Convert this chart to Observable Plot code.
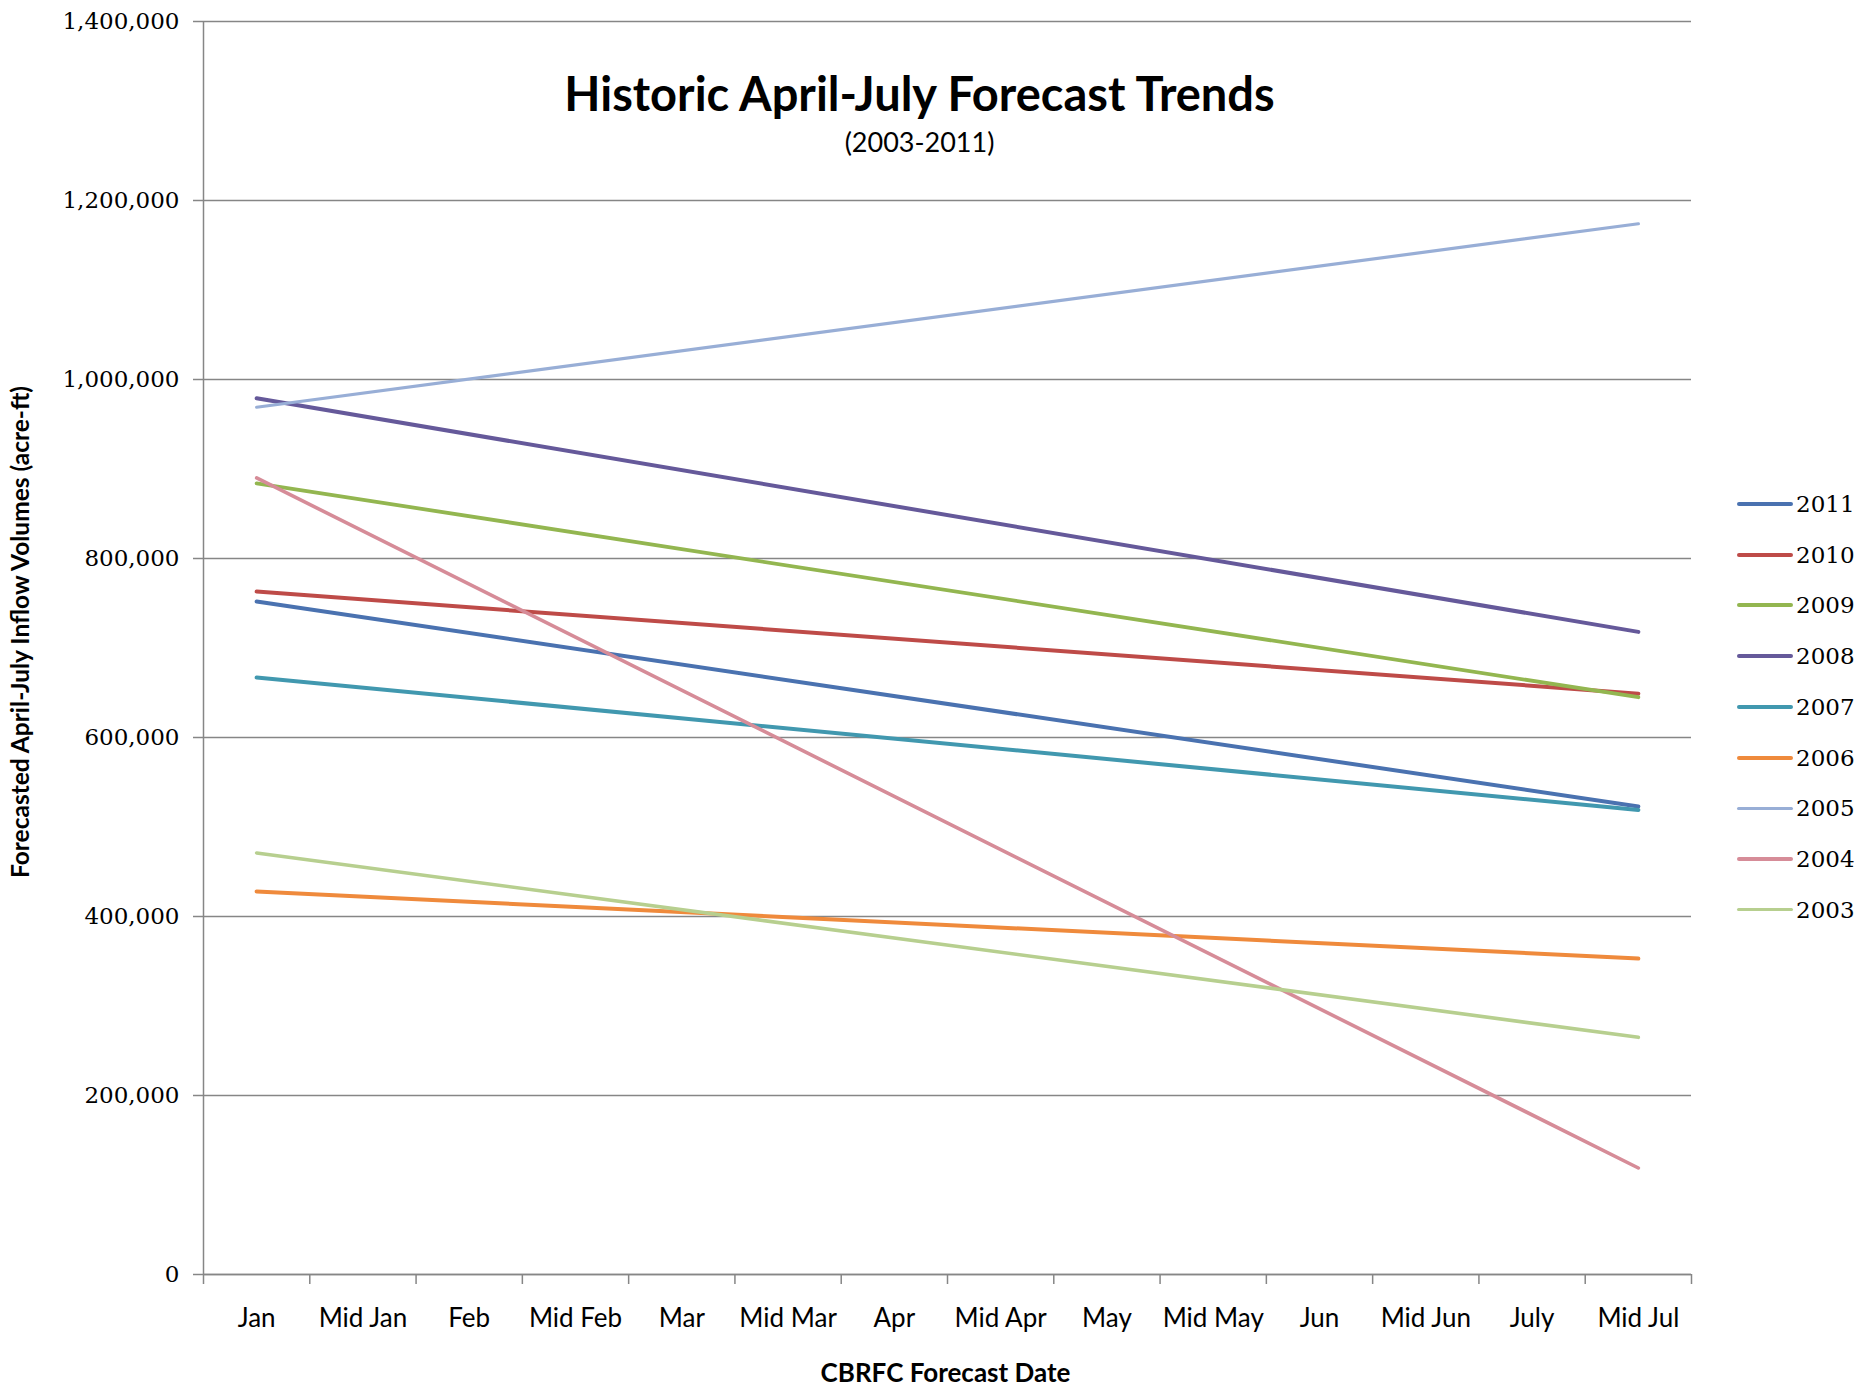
<!DOCTYPE html>
<html><head><meta charset="utf-8">
<script src="https://cdn.jsdelivr.net/npm/d3@7"></script>
<script src="https://cdn.jsdelivr.net/npm/@observablehq/plot@0.6"></script>
<style>
body{margin:0;background:#fff;}
#wrap{position:relative;width:1860px;height:1388px;overflow:hidden;}
#legend{position:absolute;left:1737px;top:0;font-family:"DejaVu Serif";font-size:23px;color:#000;}
.item{position:absolute;left:0;height:30px;display:flex;align-items:center;white-space:nowrap;}
.sw{width:56px;margin-right:3px;border-radius:2px;}
</style></head><body><div id="wrap"><div id="chart"></div><div id="legend"></div></div>
<script>
const categories = ["Jan","Mid Jan","Feb","Mid Feb","Mar","Mid Mar","Apr","Mid Apr","May","Mid May","Jun","Mid Jun","July","Mid Jul"];
const years = ["2011","2010","2009","2008","2007","2006","2005","2004","2003"];
const janValues = [752000, 763000, 884000, 979000, 667000, 428000, 969000, 890000, 471000];
const midJulValues = [523000, 649000, 645000, 718000, 519000, 353000, 1174000, 119000, 265000];
const yearColors = ["#4a72b0","#be4b48","#93b650","#65599a","#4198af","#ef8a3c","#98aed6","#d68c98","#b7cf8f"];
const yearWidths = [4, 4, 3.8, 4, 4, 4, 3.2, 3.6, 3.6];
const yTicks = [0, 200000, 400000, 600000, 800000, 1000000, 1200000, 1400000];

const rows = [];
years.forEach((y, i) => {
  rows.push({year: y, cat: "Jan", value: janValues[i]});
  rows.push({year: y, cat: "Mid Jul", value: midJulValues[i]});
});
const xi = d => categories.indexOf(d.cat) + 0.5;

const W = 1860, H = 1388, mL = 203, mR = 169, mT = 21, mB = 114;
const grid = "#868686";

const marks = [
  Plot.gridY(yTicks, {stroke: grid, strokeOpacity: 1, strokeWidth: 1.5, insetLeft: -10}),
  Plot.ruleX([0], {stroke: grid, strokeWidth: 1.5}),
  Plot.axisX({ticks: d3.range(categories.length + 1), tickSize: 10, tickFormat: () => "", stroke: grid, strokeWidth: 1.5, label: null}),
  Plot.axisX({ticks: d3.range(categories.length).map(i => i + 0.5), tickSize: 0, tickPadding: 34,
    tickFormat: d => categories[Math.floor(d)], fontSize: 26, fontFamily: "Lato", fill: "#000", label: null}),
  Plot.axisY({ticks: yTicks, tickSize: 0, tickPadding: 24, tickFormat: d3.format(","), fontSize: 23,
    fontFamily: "DejaVu Serif", fill: "#000", label: null}),
];
years.forEach((y, i) => {
  marks.push(Plot.line(rows.filter(r => r.year === y), {x: xi, y: "value", stroke: yearColors[i], strokeWidth: yearWidths[i], strokeLinecap: "round"}));
});
marks.push(
  Plot.text(["Historic April-July Forecast Trends"], {text: d => d, frameAnchor: "top", dx: -28, dy: 56, fontSize: 47, fontWeight: "bold", fontFamily: "Lato", fill: "#000"}),
  Plot.text(["(2003-2011)"], {text: d => d, frameAnchor: "top", dx: -28, dy: 111, fontSize: 27, fontFamily: "Lato", fill: "#000"}),
  Plot.text(["Forecasted April-July Inflow Volumes (acre-ft)"], {text: d => d, frameAnchor: "left", textAnchor: "middle", dx: -182, dy: -16, rotate: -90, fontSize: 24.5, fontWeight: "bold", fontFamily: "Lato", fill: "#000"}),
  Plot.text(["CBRFC Forecast Date"], {text: d => d, frameAnchor: "bottom", dx: -2, dy: 107, fontSize: 26, fontWeight: "bold", fontFamily: "Lato", fill: "#000"}),
  Plot.ruleY([0], {stroke: grid, strokeWidth: 1.5})
);

const chart = Plot.plot({
  width: W, height: H,
  marginLeft: mL, marginRight: mR, marginTop: mT, marginBottom: mB,
  x: {type: "linear", domain: [0, categories.length], label: null},
  y: {domain: [0, 1400000], label: null},
  style: {background: "#fff", fontFamily: "Lato", overflow: "visible"},
  marks
});
document.getElementById("chart").appendChild(chart);

const legend = document.getElementById("legend");
years.forEach((y, i) => {
  const item = document.createElement("div");
  item.className = "item";
  item.style.top = (504 + i * 50.7 - 15) + "px";
  const sw = document.createElement("div");
  sw.className = "sw";
  sw.style.background = yearColors[i];
  sw.style.height = yearWidths[i] + "px";
  const t = document.createElement("span");
  t.textContent = y;
  item.appendChild(sw); item.appendChild(t);
  legend.appendChild(item);
});
</script></body></html>
